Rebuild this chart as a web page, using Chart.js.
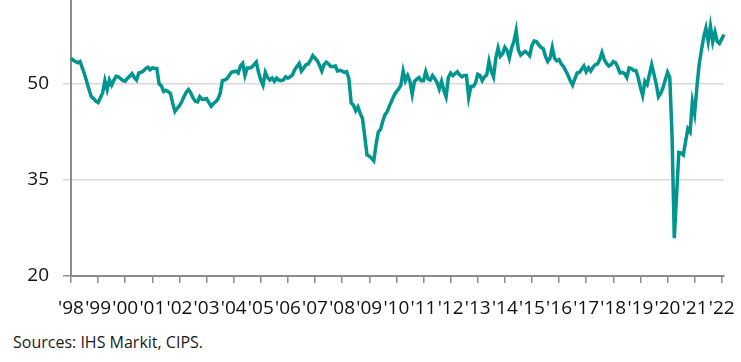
<!DOCTYPE html>
<html>
<head>
<meta charset="utf-8">
<script src="https://cdn.jsdelivr.net/npm/chart.js@4"></script>
<style>
body{margin:0;background:#fff;width:741px;height:362px;overflow:hidden;position:relative;font-family:"Open Sans",sans-serif}
#wrap{position:absolute;left:0;top:0;width:741px;height:325px}
#src{position:absolute;left:13px;top:331px;font-size:16px;color:#1a1a1a;white-space:nowrap}
</style>
</head>
<body>
<div id="wrap"><canvas id="pmi"></canvas></div>
<div id="src">Sources: IHS Markit, CIPS.</div>
<script>
const yearLabels=['98','99','00','01','02','03','04','05','06','07','08','09','10','11','12','13','14','15','16','17','18','19','20','21','22']
const firstYear=1998
const yTicks=[20,35,50]

// monthly index, Jan 1998 .. Feb 2022
const pmi=[
54.0,53.7,53.5,53.3,53.5,52.5,51.5,50.3,49.1,48.0,47.7,47.3,
47.1,47.8,48.6,50.5,49.1,50.6,49.8,50.6,51.2,51.1,50.8,50.5,
50.4,50.9,51.2,51.6,51.0,50.6,51.7,51.8,52.0,52.4,52.6,52.2,
52.5,52.4,52.4,50.0,49.7,48.8,49.0,48.8,48.5,47.0,45.7,46.2,
46.6,47.2,48.0,48.7,49.1,48.6,47.8,47.3,47.2,48.0,47.6,47.6,
47.7,47.1,46.5,46.9,47.2,47.6,48.5,50.5,50.6,50.8,51.3,51.8,
51.9,52.0,51.7,52.8,53.2,51.3,52.5,52.5,52.6,53.0,53.4,51.8,
50.6,49.8,51.8,51.0,50.6,50.9,50.4,50.9,50.6,50.5,50.6,51.1,
50.9,51.1,51.4,52.2,52.7,53.2,52.0,52.5,53.0,53.1,53.7,54.4,
54.0,53.6,52.9,52.0,53.0,53.4,53.1,52.7,52.7,52.8,52.0,52.1,
52.0,51.8,51.9,50.8,47.0,46.7,45.8,46.4,45.4,44.6,41.8,38.9,
38.7,38.4,38.0,40.5,42.5,42.9,44.2,45.2,45.7,46.6,47.4,48.2,
48.8,49.2,49.8,52.0,50.5,51.3,50.4,48.4,50.4,50.7,51.0,50.5,
50.5,51.9,50.8,50.6,51.3,50.8,50.2,49.2,50.4,49.0,48.0,51.0,
51.7,51.3,51.6,51.9,51.4,51.1,51.3,51.3,47.9,49.6,49.6,50.1,
51.5,51.3,50.5,51.1,51.4,53.5,52.0,51.1,54.0,55.6,54.3,54.7,
55.7,55.2,54.0,55.6,56.6,58.3,55.3,54.5,54.8,55.1,54.8,54.4,
56.0,56.7,56.6,56.1,55.7,55.5,54.3,53.5,54.0,55.7,54.0,53.6,
53.8,53.1,52.7,52.0,51.3,50.5,49.8,50.8,51.7,51.8,52.3,52.8,
51.9,52.5,52.0,52.6,53.0,53.1,53.8,54.9,53.8,53.2,52.8,53.0,
53.5,53.3,52.6,51.7,51.8,51.6,51.0,52.5,52.4,52.1,52.1,51.0,
49.5,48.2,50.4,49.9,51.5,53.0,51.5,50.0,48.0,48.5,49.4,50.6,
51.8,51.0,42.0,25.9,32.5,39.3,39.2,38.9,41.0,43.0,42.5,47.2,
45.4,49.5,53.0,55.2,57.3,58.7,56.6,59.0,56.6,58.1,56.6,56.3,
57.0,57.7
]

let months=[]
pmi.forEach((v,i)=>{
months.push((firstYear+Math.floor(i/12))+'-'+String(i%12+1).padStart(2,'0'))
})

const axisGrey='#8c8c8c'
const gridGrey='#d9d9d9'
const tickFont={family:'Open Sans',size:19}

new Chart(document.getElementById('pmi'),{
type:'line',
data:{
labels:months,
datasets:[{
data:pmi,
borderColor:'#00958f',
borderWidth:3.5,
pointRadius:0,
tension:0,
fill:false
}]
},
options:{
responsive:true,
maintainAspectRatio:false,
animation:false,
layout:{padding:{left:0,right:17,top:0,bottom:0}},
plugins:{legend:{display:false},tooltip:{enabled:false}},
scales:{
x:{
afterFit:s=>{s.height=49;s.paddingLeft=0;s.paddingRight=0},
ticks:{
autoSkip:false,maxRotation:0,minRotation:0,
color:'#111',font:tickFont,padding:14,
callback:(v,i)=>i%12===0?"'"+yearLabels[i/12]:null
},
grid:{drawOnChartArea:false,tickLength:7,color:axisGrey,lineWidth:1.5},
border:{color:axisGrey,width:2}
},
y:{
min:20,max:63.1,
afterBuildTicks:s=>{s.ticks=yTicks.map(v=>({value:v}))},
afterFit:s=>{s.width=71;s.paddingTop=0;s.paddingBottom=0},
ticks:{color:'#111',font:tickFont,padding:14},
grid:{tickLength:8,lineWidth:1.5,color:c=>c.tick&&c.tick.value===20?axisGrey:gridGrey},
border:{color:axisGrey,width:2}
}
}
}
})
</script>
</body>
</html>
